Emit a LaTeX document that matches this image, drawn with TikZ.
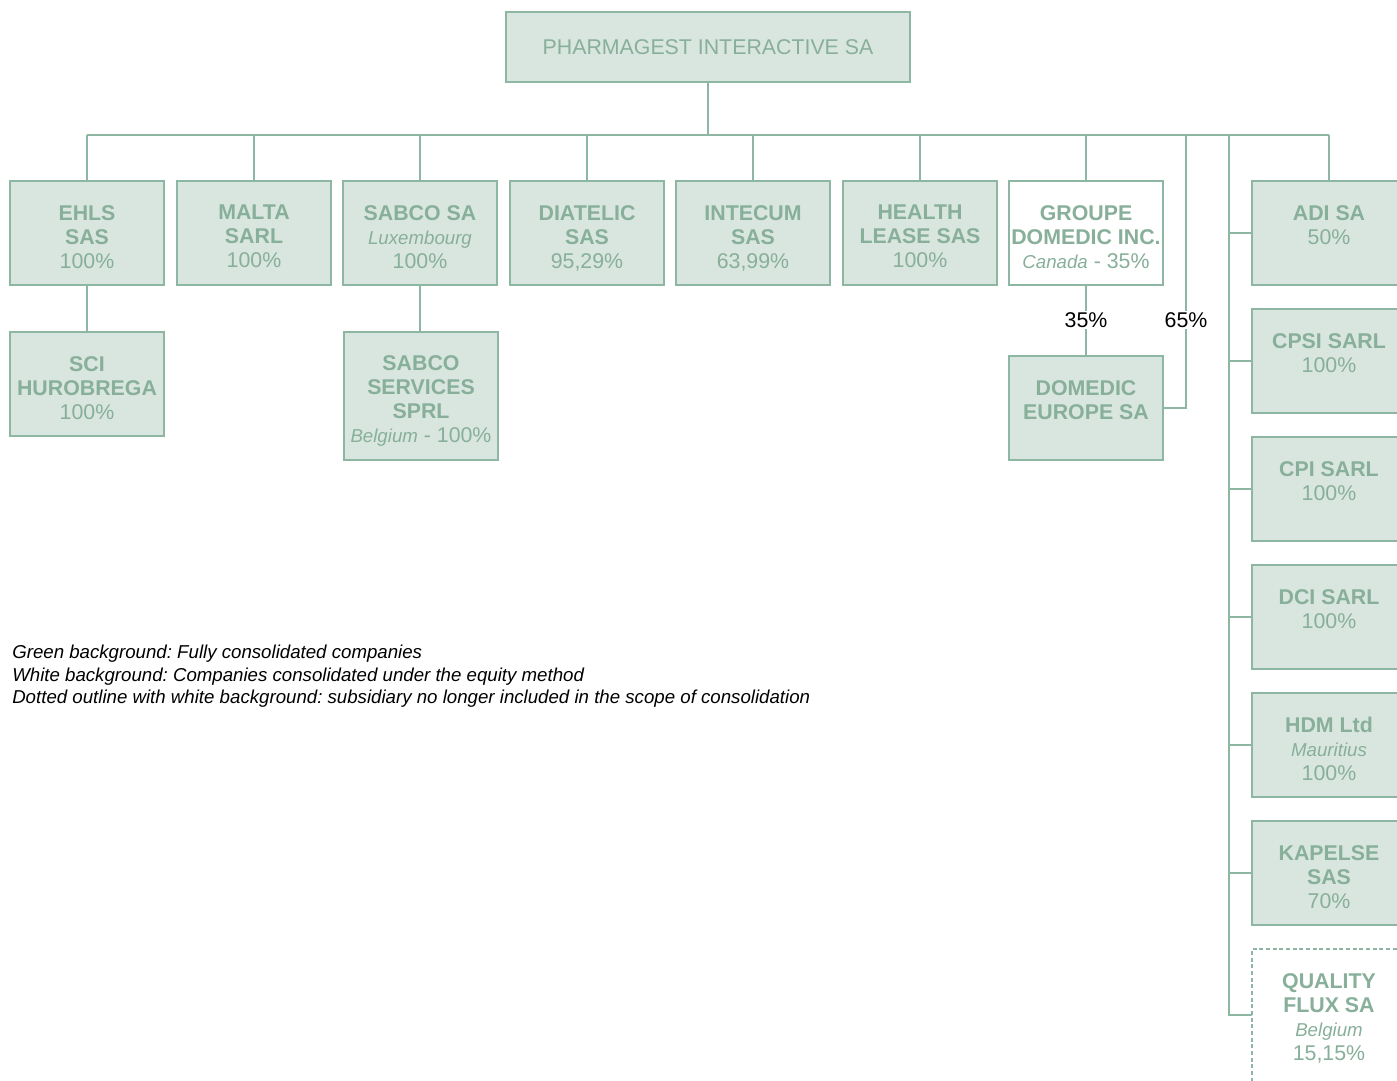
\documentclass[tikz,border=0pt]{standalone}
\usepackage{fontspec}
\setmainfont{Liberation Sans}
\frenchspacing
\definecolor{gfill}{HTML}{D9E6DF}
\definecolor{gline}{HTML}{8DB7A2}
\definecolor{gtext}{HTML}{87AF9A}
\newcommand{\ctry}[1]{{\fontsize{14}{18}\selectfont\itshape #1}}
\tikzset{
  box/.style={draw=gline, line width=1.3pt, fill=gfill, minimum width=115.5pt, minimum height=78pt, anchor=north west, inner sep=0pt, outer sep=0pt},
  wbox/.style={box, fill=white},
  dbox/.style={box, fill=white, dash pattern=on 3pt off 2pt, line width=1.1pt},
  lbl/.style={anchor=north, inner sep=0pt, align=center, text=gtext, font=\fontsize{16}{18}\selectfont},
  conn/.style={draw=gline, line width=1.1pt},
  pct/.style={fill=white, inner sep=1pt, font=\fontsize{16}{18}\selectfont},
  legendtext/.style={anchor=north west, align=left, inner sep=0pt, font=\itshape\fontsize{14}{16.9}\selectfont}
}
\begin{document}
\begin{tikzpicture}[x=0.75pt, y=-0.75pt]
\clip (0,0) rectangle (1397,1081);
\fill[white] (0,0) rectangle (1397,1081);
% boxes
\node[box, minimum width=303pt, minimum height=52.5pt] (top) at (506,12) {};
\node[box] (ehls) at (10,181) {};
\node[box] (malta) at (177,181) {};
\node[box] (sabco) at (343,181) {};
\node[box] (diatelic) at (510,181) {};
\node[box] (intecum) at (676,181) {};
\node[box] (health) at (843,181) {};
\node[wbox] (groupe) at (1009,181) {};
\node[box] (adi) at (1252,181) {};
\node[box] (sci) at (10,332) {};
\node[box, minimum height=96pt] (sabserv) at (344,332) {};
\node[box] (domeu) at (1009,356) {};
\node[box] (cpsi) at (1252,309) {};
\node[box] (cpi) at (1252,437) {};
\node[box] (dci) at (1252,565) {};
\node[box] (hdm) at (1252,693) {};
\node[box] (kapelse) at (1252,821) {};
\node[dbox, minimum height=112.5pt] (quality) at (1252,949) {};
% connectors
\coordinate (bus) at (708,135);
\coordinate (j65) at (1186,135);
\coordinate (rj) at (1229,135);
\draw[conn] (top.south) -- (top.south |- bus);
\draw[conn] (ehls.north |- bus) -- (adi.north |- bus);
\foreach \n in {ehls,malta,sabco,diatelic,intecum,health,groupe,adi}
  \draw[conn] (\n.north) -- (\n.north |- bus);
\draw[conn] (ehls.south) -- (sci.north);
\draw[conn] (sabco.south) -- (sabco.south |- sabserv.north);
\draw[conn] (groupe.south) -- (domeu.north);
\draw[conn] (j65) |- (domeu.east);
\draw[conn] (rj) |- ([yshift=-49.5pt]quality.north west);
\foreach \n in {adi,cpsi,cpi,dci,hdm,kapelse}
  \draw[conn] (\n.west) -- (\n.west -| rj);
\node[pct] (p35) at (1086,320) {35\%};
\node[pct] (p65) at (1186,320) {65\%};
% labels
\node[lbl, anchor=center] (topT) at (top.center) {PHARMAGEST INTERACTIVE SA};
\node[lbl] (ehlsT) at ([yshift=-18pt]ehls.north) {\textbf{EHLS}\\\textbf{SAS}\\100\%};
\node[lbl] (maltaT) at ([yshift=-18pt]malta.north) {\textbf{MALTA}\\\textbf{SARL}\\100\%};
\node[lbl] (sabcoT) at ([yshift=-18pt]sabco.north) {\textbf{SABCO SA}\\\ctry{Luxembourg}\\100\%};
\node[lbl] (diatelicT) at ([yshift=-18pt]diatelic.north) {\textbf{DIATELIC}\\\textbf{SAS}\\95,29\%};
\node[lbl] (intecumT) at ([yshift=-18pt]intecum.north) {\textbf{INTECUM}\\\textbf{SAS}\\63,99\%};
\node[lbl] (healthT) at ([yshift=-18pt]health.north) {\textbf{HEALTH}\\\textbf{LEASE SAS}\\100\%};
\node[lbl] (groupeT) at ([yshift=-18pt]groupe.north) {\textbf{GROUPE}\\\textbf{DOMEDIC INC.}\\\ctry{Canada} - 35\%};
\node[lbl] (adiT) at ([yshift=-18pt]adi.north) {\textbf{ADI SA}\\50\%};
\node[lbl] (sciT) at ([yshift=-18pt]sci.north) {\textbf{SCI}\\\textbf{HUROBREGA}\\100\%};
\node[lbl] (sabservT) at ([yshift=-17.5pt]sabserv.north) {\textbf{SABCO}\\\textbf{SERVICES}\\\textbf{SPRL}\\\ctry{Belgium} - 100\%};
\node[lbl] (domeuT) at ([yshift=-18pt]domeu.north) {\textbf{DOMEDIC}\\\textbf{EUROPE SA}};
\node[lbl] (cpsiT) at ([yshift=-18pt]cpsi.north) {\textbf{CPSI SARL}\\100\%};
\node[lbl] (cpiT) at ([yshift=-18pt]cpi.north) {\textbf{CPI SARL}\\100\%};
\node[lbl] (dciT) at ([yshift=-18pt]dci.north) {\textbf{DCI SARL}\\100\%};
\node[lbl] (hdmT) at ([yshift=-18pt]hdm.north) {\textbf{HDM Ltd}\\\ctry{Mauritius}\\100\%};
\node[lbl] (kapelseT) at ([yshift=-18pt]kapelse.north) {\textbf{KAPELSE}\\\textbf{SAS}\\70\%};
\node[lbl] (qualityT) at ([yshift=-18pt]quality.north) {\textbf{QUALITY}\\\textbf{FLUX SA}\\\ctry{Belgium}\\15,15\%};
% legend
\node[legendtext] (legend) at (12,645) {Green background: Fully consolidated companies\\White background: Companies consolidated under the equity method\\Dotted outline with white background: subsidiary no longer included in the scope of consolidation};
\end{tikzpicture}
\end{document}
